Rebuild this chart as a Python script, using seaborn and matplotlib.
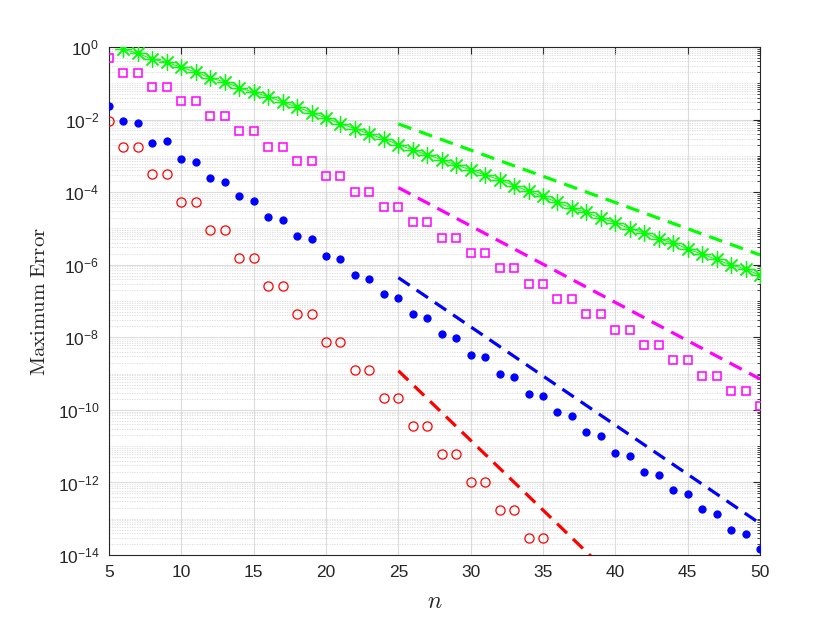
import numpy as np
import pandas as pd
import seaborn as sns
import matplotlib
matplotlib.use("Agg")
import matplotlib.pyplot as plt
from matplotlib.ticker import LogLocator, LogFormatterSciNotation, NullFormatter, MultipleLocator

# values
n_green = list(range(6, 51))
err_green = [0.865, 0.67, 0.457, 0.38, 0.275, 0.204, 0.14, 0.109, 0.076, 0.056,
             0.043, 0.0305, 0.0219, 0.0155, 0.011, 7.6e-3, 5.6e-3, 4.0e-3, 2.9e-3, 2.04e-3,
             1.45e-3, 1.07e-3, 7.8e-4, 5.6e-4, 4.1e-4, 2.95e-4, 2.2e-4, 1.5e-4, 1.07e-4, 7.6e-5,
             5.2e-5, 3.6e-5, 2.75e-5, 1.9e-5, 1.45e-5, 9.8e-6, 7.6e-6, 5.1e-6, 4.0e-6, 2.7e-6,
             1.95e-6, 1.4e-6, 9.8e-7, 7.6e-7, 5.1e-7]

n_magenta = list(range(5, 51))
err_magenta = [0.49, 0.195, 0.195, 8.1e-2, 8.1e-2, 3.2e-2, 3.2e-2, 1.23e-2, 1.23e-2, 4.8e-3,
               4.8e-3, 1.8e-3, 1.8e-3, 7.1e-4, 7.1e-4, 2.75e-4, 2.75e-4, 1.02e-4, 1.02e-4, 3.8e-5,
               3.8e-5, 1.48e-5, 1.48e-5, 5.5e-6, 5.5e-6, 2.1e-6, 2.1e-6, 7.9e-7, 7.9e-7, 2.9e-7,
               2.9e-7, 1.15e-7, 1.15e-7, 4.4e-8, 4.4e-8, 1.6e-8, 1.6e-8, 6.0e-9, 6.0e-9, 2.3e-9,
               2.3e-9, 8.5e-10, 8.5e-10, 3.3e-10, 3.3e-10, 1.26e-10]

n_blue = list(range(5, 51))
err_blue = [2.4e-2, 8.9e-3, 7.8e-3, 2.3e-3, 2.6e-3, 8.1e-4, 6.9e-4, 2.4e-4, 1.9e-4, 7.6e-5,
            5.8e-5, 2.1e-5, 1.7e-5, 6.2e-6, 5.0e-6, 1.7e-6, 1.4e-6, 5.1e-7, 4.1e-7, 1.55e-7,
            1.23e-7, 4.4e-8, 3.4e-8, 1.23e-8, 9.8e-9, 3.3e-9, 2.8e-9, 1.0e-9, 8.1e-10, 2.75e-10,
            2.4e-10, 8.7e-11, 6.8e-11, 2.45e-11, 1.95e-11, 6.6e-12, 5.5e-12, 2.0e-12, 1.6e-12, 6.3e-13,
            4.7e-13, 1.8e-13, 1.35e-13, 4.9e-14, 3.8e-14, 1.45e-14]

n_red = list(range(5, 36))
err_red = [9.1e-3, 1.8e-3, 1.8e-3, 3.1e-4, 3.1e-4, 5.4e-5, 5.4e-5, 9.1e-6, 9.1e-6, 1.55e-6,
           1.55e-6, 2.6e-7, 2.6e-7, 4.4e-8, 4.4e-8, 7.4e-9, 7.4e-9, 1.26e-9, 1.26e-9, 2.1e-10,
           2.1e-10, 3.6e-11, 3.6e-11, 6.2e-12, 6.2e-12, 1.0e-12, 1.0e-12, 1.74e-13, 1.74e-13, 2.95e-14,
           2.95e-14]

# reference slopes (dashed), endpoints at n = 25 and n = 50
n_ref = [25, 50]
ref_green = [7.6e-3, 1.86e-6]
ref_magenta = [1.33e-4, 7.1e-10]
ref_blue = [4.4e-7, 7.4e-14]
ref_red = [1.2e-9, 3.0e-19]

GREEN = "#00ff00"
MAGENTA = "#ff00ff"
BLUE = "#0000ff"
RED = "#ff0000"

sns.set_style("white")
plt.rcParams["font.family"] = ["Liberation Sans", "DejaVu Sans"]
plt.rcParams["mathtext.fontset"] = "cm"

fig = plt.figure(figsize=(8.4, 6.3), dpi=100)
ax = fig.add_axes([0.1298, 0.119, 0.775, 0.8064])
ax.set_yscale("log")

# markers
sns.lineplot(x=n_magenta, y=err_magenta, ax=ax, estimator=None, sort=False,
             linestyle="", marker="s", markersize=6.3, markerfacecolor="none",
             markeredgecolor=MAGENTA, markeredgewidth=1.1, color=MAGENTA, zorder=3)
sns.lineplot(x=n_blue, y=err_blue, ax=ax, estimator=None, sort=False,
             linestyle="", marker="o", markersize=5.2, markerfacecolor=BLUE,
             markeredgecolor=BLUE, color=BLUE, zorder=3)
sns.lineplot(x=n_red, y=err_red, ax=ax, estimator=None, sort=False,
             linestyle="", marker="o", markersize=6.6, markerfacecolor="none",
             markeredgecolor=RED, markeredgewidth=0.9, color=RED, zorder=3)
sns.lineplot(x=n_green, y=err_green, ax=ax, estimator=None, sort=False,
             linewidth=0.7, marker=(8, 2, 0), markersize=12, markeredgewidth=0.9,
             color=GREEN, markeredgecolor=GREEN, zorder=3)

# dashed reference lines
for ref, col in [(ref_green, GREEN), (ref_magenta, MAGENTA), (ref_blue, BLUE), (ref_red, RED)]:
    sns.lineplot(x=n_ref, y=ref, ax=ax, estimator=None, sort=False, color=col,
                 linewidth=2.3, dashes=False, zorder=4)
for line in ax.lines[-4:]:
    line.set_dashes((4.3, 2.6))

ax.set_xlim(5, 50)
ax.set_ylim(1e-14, 1e0)
ax.xaxis.set_major_locator(MultipleLocator(5))
ax.yaxis.set_major_locator(LogLocator(base=100, numticks=20))
ax.yaxis.set_major_formatter(LogFormatterSciNotation(base=10))
ax.yaxis.set_minor_locator(LogLocator(base=10, subs=np.arange(1, 10), numticks=200))
ax.yaxis.set_minor_formatter(NullFormatter())

ax.grid(True, which="major", color="#dcdcdc", linewidth=0.8, linestyle="-")
ax.grid(True, which="minor", axis="y", color="#d9d9d9", linewidth=0.6, linestyle=(0, (1.5, 1.5)))
ax.set_axisbelow(True)

ax.tick_params(which="both", direction="in", top=True, right=True, colors="#262626",
               labelsize=12.5)
ax.tick_params(which="major", length=5, width=0.8, pad=7)
ax.tick_params(which="minor", length=2.5, width=0.6)
for sp in ax.spines.values():
    sp.set_visible(True)
    sp.set_color("#262626")
    sp.set_linewidth(0.8)

ax.set_xlabel(r"$n$", fontsize=17, labelpad=8)
ax.set_ylabel(r"$\mathrm{Maximum\ Error}$", fontsize=15, labelpad=6)

fig.savefig("out.png", dpi=100)
